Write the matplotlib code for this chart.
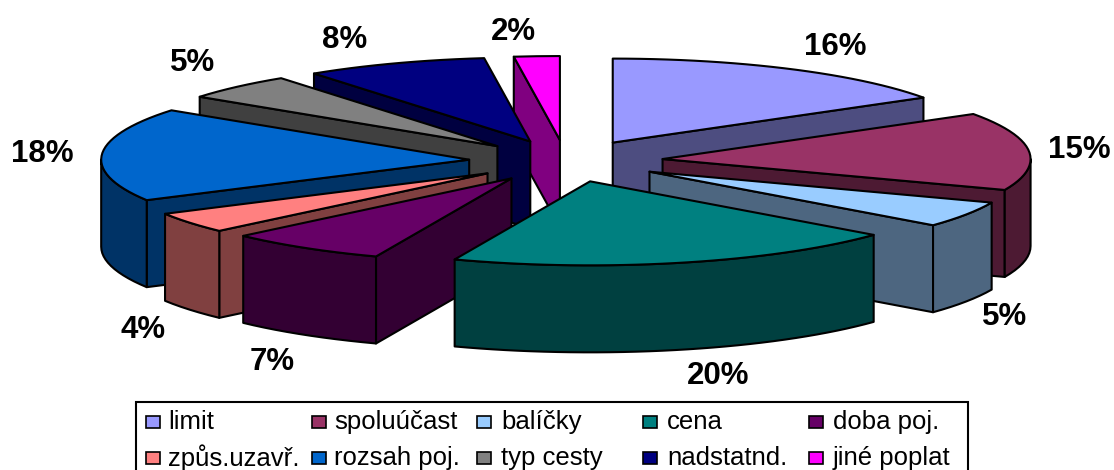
import numpy as np
import matplotlib
matplotlib.use('Agg')
import matplotlib.pyplot as plt
from matplotlib.colors import to_rgb
from matplotlib.patches import Rectangle, Polygon

plt.rcParams['font.family'] = ['Liberation Sans', 'DejaVu Sans']

# podily odpovedi v procentech
names = ['limit', 'spoluúčast', 'balíčky', 'cena', 'doba poj.',
         'způs.uzavř.', 'rozsah poj.', 'typ cesty', 'nadstatnd.', 'jiné poplat']
values = [16, 15, 5, 20, 7, 4, 18, 5, 8, 2]
colors = ['#9999FF', '#993366', '#99CCFF', '#008080', '#660066',
          '#FF8080', '#0066CC', '#808080', '#000080', '#FF00FF']

# pozice popisku v pixelech
label_x = [835, 1079, 1005, 718, 272, 143, 42, 193, 345, 513]
label_y = [47, 150, 317, 376, 362, 330, 154, 63, 40, 32]

# geometrie kolace
cx, cy = 566, 161
rx, ry = 368, 84
ex, ey = 97, 21
depth = 87
lw = 1.5

fig = plt.figure(figsize=(11.14, 4.70), dpi=100)
ax = fig.add_axes([0, 0, 1, 1])
ax.set_xlim(0, 1114)
ax.set_ylim(470, 0)
ax.axis('off')


def rim(ox, oy, t0, t1):
    n = max(int(np.degrees(t1 - t0) / 2), 2)
    t = np.linspace(t0, t1, n)
    return np.column_stack([ox + rx * np.sin(t), oy - ry * np.cos(t)])


def face(pts, col, z):
    ax.add_patch(Polygon(pts, closed=True, fc=col, ec='black', lw=lw, joinstyle='round', zorder=z))


def draw_slice(t0, t1, col, z):
    mid = (t0 + t1) / 2
    ox = cx + ex * np.sin(mid)
    oy = cy - ey * np.cos(mid)
    dark = tuple(c * 0.5 for c in to_rgb(col))
    apex = np.array([ox, oy])
    down = np.array([0, depth])

    # rezy vedouci ke stredu
    for t, vis in ((t0, np.sin(t0) < -1e-6), (t1, np.sin(t1) > 1e-6)):
        if vis:
            p = rim(ox, oy, t, t)[0]
            face([apex, p, p + down, apex + down], dark, z)

    # vnejsi plast, jen predni cast
    a = max(t0, np.pi / 2)
    b = min(t1, 3 * np.pi / 2)
    if a < b:
        arc = rim(ox, oy, a, b)
        face(np.vstack([arc, (arc + down)[::-1]]), dark, z)

    # horni plocha
    face(np.vstack([apex, rim(ox, oy, t0, t1)]), col, z)


edges = 2 * np.pi * np.concatenate([[0], np.cumsum(values)]) / sum(values)
mids = (edges[:-1] + edges[1:]) / 2

# od zadnich dilu k prednim
order = np.argsort(-np.cos(mids))
for z, i in enumerate(order):
    draw_slice(edges[i], edges[i + 1], colors[i], 2 + z)

for v, x, y in zip(values, label_x, label_y):
    ax.text(x, y, '%d%%' % v, fontsize=22.5, fontweight='bold', ha='center', va='center', zorder=30)

# legenda, spodni okraj je az za hranou obrazku
ax.add_patch(Rectangle((136, 402), 832, 80, fc='white', ec='black', lw=1.5, zorder=31))
col_sw = [146, 312, 477, 643, 809]
col_tx = [168, 334, 501, 667, 833]
row_y = [422, 458]
for i, (name, col) in enumerate(zip(names, colors)):
    r, c = divmod(i, 5)
    ax.add_patch(Rectangle((col_sw[c], row_y[r] - 6), 14, 12, fc=col, ec='black', lw=1.2, zorder=32))
    ax.text(col_tx[c], row_y[r], name, fontsize=18.5, ha='left', va='center', zorder=32)

fig.savefig('out.png', dpi=100)
